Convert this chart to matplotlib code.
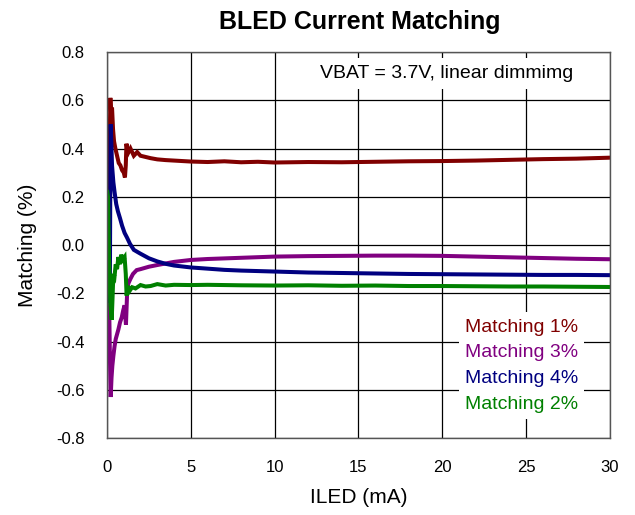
import matplotlib
matplotlib.use("Agg")
import matplotlib.pyplot as plt

plt.rcParams['font.family'] = ['Liberation Sans', 'DejaVu Sans']

# ---- data ----
red_x = [0.05, 0.12, 0.2, 0.24, 0.3, 0.36, 0.42, 0.5, 0.6, 0.7, 0.8, 0.9, 1.0, 1.07, 1.12, 1.16,
         1.25, 1.4, 1.6, 1.8, 2.0, 2.3, 2.6, 3.0, 3.5, 4, 5, 6, 7, 8, 9, 10, 12, 14, 16, 18, 20,
         22, 24, 26, 28, 30]
red_y = [-0.03, 0.25, 0.61, 0.55, 0.57, 0.48, 0.43, 0.40, 0.37, 0.34, 0.33, 0.31, 0.30, 0.28, 0.33, 0.42,
         0.38, 0.40, 0.37, 0.385, 0.37, 0.365, 0.36, 0.355, 0.352, 0.35, 0.346, 0.344, 0.347, 0.343, 0.345,
         0.342, 0.344, 0.343, 0.345, 0.347, 0.348, 0.35, 0.353, 0.356, 0.358, 0.362]

purple_x = [0.02, 0.07, 0.12, 0.17, 0.22, 0.27, 0.32, 0.38, 0.45, 0.52, 0.6, 0.68, 0.78, 0.88, 0.97, 1.05,
            1.13, 1.2, 1.27, 1.4, 1.55, 1.77, 2.0, 2.5, 3.0, 4.0, 5, 6, 8, 10, 12, 14, 16, 18, 20, 22,
            24, 26, 28, 30]
purple_y = [0.16, 0.06, -0.2, -0.45, -0.63, -0.55, -0.5, -0.46, -0.42, -0.39, -0.37, -0.35, -0.32, -0.30,
            -0.27, -0.25, -0.33, -0.2, -0.16, -0.14, -0.12, -0.104, -0.1, -0.09, -0.083, -0.07, -0.062,
            -0.058, -0.053, -0.048, -0.046, -0.045, -0.044, -0.044, -0.045, -0.048, -0.051, -0.054,
            -0.057, -0.059]

blue_x = [0.03, 0.1, 0.17, 0.2, 0.22, 0.26, 0.3, 0.38, 0.45, 0.55, 0.65, 0.78, 0.9, 1.05, 1.2, 1.37, 1.6,
          1.97, 2.5, 3.0, 3.5, 4.0, 5.0, 6, 7, 8, 10, 12, 14, 16, 18, 20, 22, 24, 26, 28, 30]
blue_y = [-0.23, -0.21, -0.19, 0.3, 0.50, 0.42, 0.33, 0.26, 0.22, 0.17, 0.14, 0.11, 0.08, 0.05, 0.03,
          0.005, -0.02, -0.035, -0.055, -0.068, -0.078, -0.085, -0.093, -0.098, -0.103, -0.106, -0.11,
          -0.114, -0.116, -0.118, -0.12, -0.121, -0.122, -0.123, -0.124, -0.124, -0.125]

green_x = [0.02, 0.06, 0.12, 0.2, 0.28, 0.33, 0.38, 0.45, 0.52, 0.6, 0.68, 0.76, 0.85, 0.95, 1.05, 1.12,
           1.17, 1.25, 1.35, 1.5, 1.7, 2.0, 2.3, 2.6, 3.0, 3.5, 4, 5, 6, 8, 10, 12, 14, 16, 18, 20, 22,
           24, 26, 28, 30]
green_y = [0.22, 0.2, -0.05, -0.25, -0.31, -0.22, -0.12, -0.13, -0.08, -0.10, -0.05, -0.08, -0.04, -0.06,
           -0.05, -0.12, -0.21, -0.17, -0.19, -0.175, -0.18, -0.166, -0.172, -0.17, -0.162, -0.168, -0.165,
           -0.166, -0.165, -0.167, -0.168, -0.167, -0.169, -0.168, -0.17, -0.17, -0.171, -0.172, -0.172,
           -0.173, -0.174]

labels = ["Matching 1%", "Matching 3%", "Matching 4%", "Matching 2%"]
colors = ["#800000", "#800080", "#000080", "#008000"]
x_ticks = [0, 5, 10, 15, 20, 25, 30]
y_ticks = [-0.8, -0.6, -0.4, -0.2, 0.0, 0.2, 0.4, 0.6, 0.8]
y_tick_labels = ["-0.8", "-0.6", "-0.4", "-0.2", "0.0", "0.2", "0.4", "0.6", "0.8"]

fig = plt.figure(figsize=(6.35, 5.15), dpi=100)
ax = fig.add_axes([0.1685, 0.1495, 0.792, 0.7495])

series = [(red_x, red_y), (purple_x, purple_y), (blue_x, blue_y), (green_x, green_y)]
for (xs, ys), lab, c in zip(series, labels, colors):
    ax.plot(xs, ys, color=c, lw=2.9, label=lab, solid_joinstyle='miter')

ax.set_xlim(0, 30)
ax.set_ylim(-0.8, 0.8)
ax.set_xticks(x_ticks)
ax.set_yticks(y_ticks)
ax.set_yticklabels(y_tick_labels)
ax.tick_params(axis='both', length=0, labelsize=12, colors='black')
ax.tick_params(axis='y', pad=16)
ax.tick_params(axis='x', pad=16)
ax.grid(True, color='black', lw=0.9)
ax.set_axisbelow(True)
for s in ax.spines.values():
    s.set_color('#555555')
    s.set_linewidth(1.0)

ax.set_xlabel("ILED (mA)", fontsize=15, labelpad=9)
ax.set_ylabel("Matching (%)", fontsize=15, labelpad=14)
fig.text(0.567, 0.958, "BLED Current Matching", ha='center', va='center',
         fontsize=18, fontweight='bold')

ax.text(0.676, 0.9456, "VBAT = 3.7V, linear dimmimg", transform=ax.transAxes,
        ha='center', va='center', fontsize=14,
        bbox=dict(facecolor='white', edgecolor='none', pad=5), zorder=5)

leg = ax.legend(loc='center', bbox_to_anchor=(0.824, 0.188), handlelength=0, handletextpad=0,
                labelcolor=colors, fontsize=14, frameon=True, fancybox=False,
                edgecolor='none', facecolor='white', framealpha=1, labelspacing=0.42,
                borderpad=0.3)
for h in leg.legend_handles:
    h.set_visible(False)

fig.savefig("out.png", dpi=100)
